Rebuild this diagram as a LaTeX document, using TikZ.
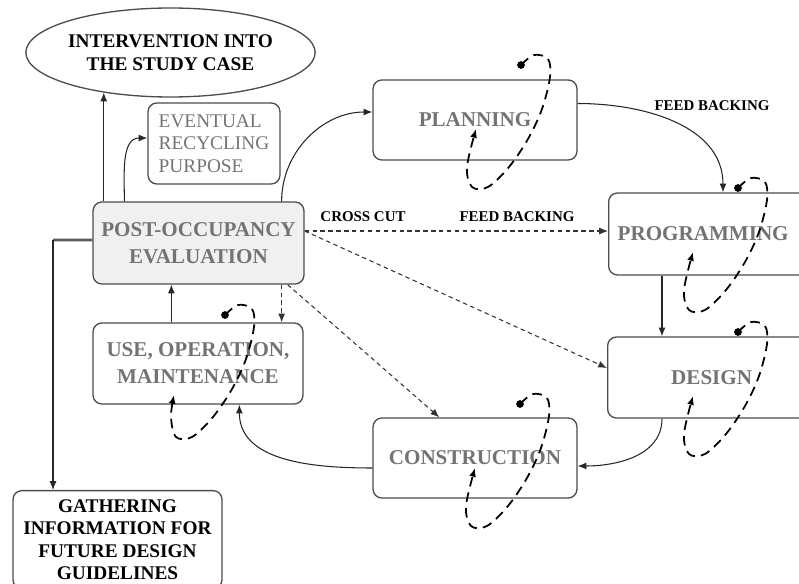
\documentclass[tikz,border=0pt]{standalone}
\usepackage{fontspec}
\setmainfont{Liberation Serif}
\usepackage{tikz}
\usetikzlibrary{shapes,arrows.meta,positioning,calc}

% dashed self-loop with a dot at its start (coordinates in px)
\newcommand{\cyclemark}[3][0,0]{%
  \begin{scope}[shift={(#2,#3)}]
    \fill (45,-64) circle (2.2pt);
    \draw[loopline] plot[smooth,tension=0.55] coordinates
      {(45,-64) (58,-74) (72,-70) (74,-52) (66,-20) (52,10) (33,38) (12,58) (-4,58) (-9,38) (#1)};
  \end{scope}}

\begin{document}
\begin{tikzpicture}[x=0.02cm,y=-0.02cm,
    stage/.style={draw=black!70,line width=0.75pt,rounded corners=5pt,
      text=black!55,font=\fontsize{12}{15.3}\selectfont\bfseries,align=center},
    info/.style={draw=black!70,line width=0.75pt,
      font=\fontsize{11}{13}\selectfont\bfseries,align=center},
    arr/.style={-{Latex[length=5pt,width=4pt]},line width=0.6pt,black!85},
    dotarr/.style={arr,black!80,dash pattern=on 2.5pt off 2pt},
    loopline/.style={-{Latex[length=5pt,width=4pt]},line width=1pt,dash pattern=on 5.5pt off 3.5pt},
    tag/.style={font=\fontsize{8.5}{10}\selectfont\bfseries}]

    \useasboundingbox (0,0) rectangle (799,584);
    \clip (0,0) rectangle (799,584);

    % Outcomes of the evaluation
    \node[info,ellipse,minimum width=4.7cm,minimum height=1.78cm,inner sep=0pt] (goal) at (170.5,52.5)
        {INTERVENTION INTO\\THE STUDY CASE};
    \node[stage,font=\fontsize{11}{12.8}\selectfont,align=left,minimum width=2.64cm,minimum height=1.62cm] (recyc) at (214,143.5)
        {EVENTUAL\\RECYCLING\\PURPOSE};
    \node[info,font=\fontsize{11}{12.6}\selectfont\bfseries,rounded corners=5pt,anchor=north,
          minimum width=4.18cm,minimum height=1.96cm,inner ysep=2pt] (gath) at (117.5,490)
        {GATHERING\\INFORMATION FOR\\FUTURE DESIGN\\GUIDELINES};

    % Building stages
    \node[stage,fill=black!6,minimum width=4.22cm,minimum height=1.64cm] (poe) at (198.5,243) {POST-OCCUPANCY\\EVALUATION};
    \node[stage,minimum width=4.08cm,minimum height=1.6cm] (plan) at (475,120) {PLANNING};
    \node[stage,anchor=west,text width=4cm,align=left,inner xsep=0.18cm,minimum height=1.64cm] (prog) at (608,234) {PROGRAMMING};
    \node[stage,anchor=west,text width=3.8cm,inner xsep=0.18cm,minimum height=1.62cm] (des) at (607,377.5) {DESIGN};
    \node[stage,minimum width=4.08cm,minimum height=1.6cm] (cons) at (475,458) {CONSTRUCTION};
    \node[stage,minimum width=4.2cm,minimum height=1.62cm] (use) at (198,363.5) {USE, OPERATION,\\MAINTENANCE};

    % Main cycle
    \draw[arr] ($(poe.north east)+(-23,0)$) to[out=90,in=180] ([yshift=0.16cm]plan.west);
    \draw[arr] ([yshift=0.33cm]plan.east) to[out=0,in=90] ($(prog.north west)+(115,0)$);
    \coordinate (pd) at ($(prog.south west)+(54,0)$);
    \draw[arr] (pd) -- (pd |- des.north);
    \draw[arr] ($(des.south west)+(55,0)$) to[out=270,in=0] ([yshift=-0.16cm]cons.east);
    \draw[arr] ([yshift=-0.2cm]cons.west) to[out=180,in=270] ($(use.south west)+(147,0)$);
    \coordinate (up) at ($(use.north west)+(79,0)$);
    \draw[arr] (up) -- (up |- poe.south);

    % Branches out of the evaluation
    \draw[arr] (goal.211 |- poe.north) -- (goal.211);
    \draw[arr] ($(poe.north west)+(32,0)$) to[out=90,in=180] ([yshift=0.11cm]recyc.west);
    \coordinate (bend) at (53,240);
    \draw[line width=1.6pt,black!65] ([yshift=0.06cm]poe.west) -- (bend);
    \draw[arr] (bend) -- (bend |- gath.north);

    % Cross cut feedback
    \coordinate (cc) at ([yshift=0.24cm]poe.east);
    \draw[dotarr] (cc) -- (cc -| prog.west);
    \draw[dotarr] (cc) -- ([yshift=0.19cm]des.west);
    \draw[dotarr] ($(poe.south east)+(-17,0)$) -- ($(cons.north west)+(67,0)$);
    \coordinate (cd) at ($(poe.south east)+(-23,0)$);
    \draw[dotarr] (cd) -- (cd |- use.north);

    \node[tag] (cut) at (363,217) {CROSS CUT};
    \node[tag] (back) at (517,217) {FEED BACKING};
    \node[tag] (backtop) at (712,106) {FEED BACKING};

    % Loops inside each stage
    \cyclemark{476}{129}
    \cyclemark{693}{252}
    \cyclemark{693}{396}
    \cyclemark{475}{468}
    \cyclemark[-6,16]{180}{379}
\end{tikzpicture}
\end{document}
